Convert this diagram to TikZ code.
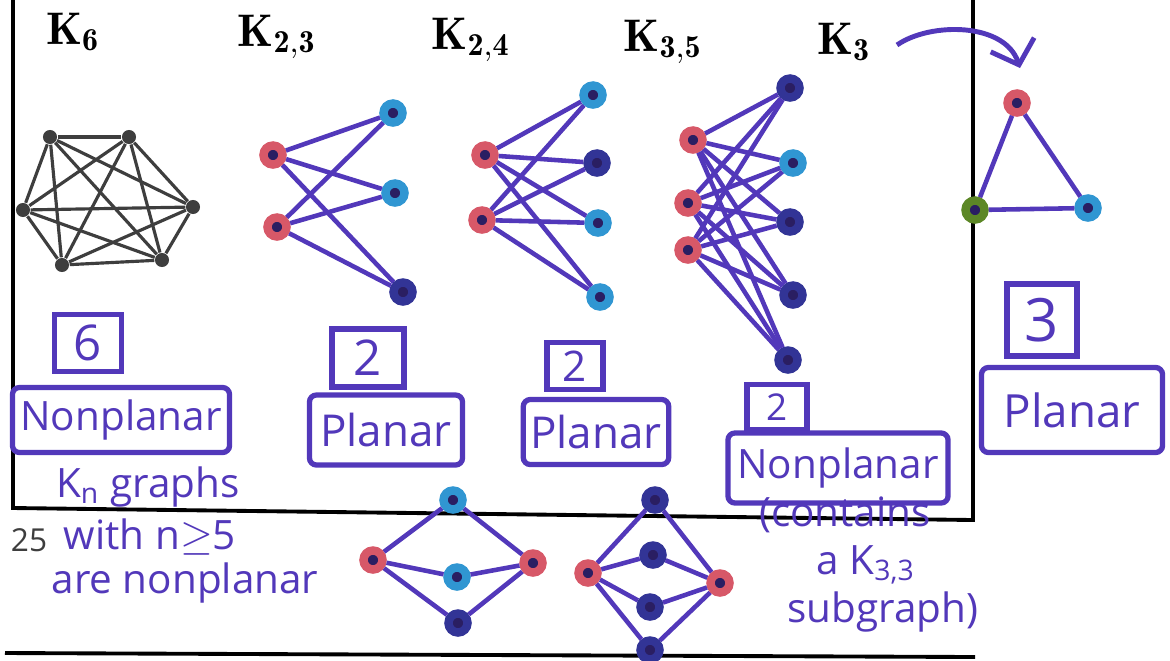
\documentclass[tikz,border=0pt]{standalone}
\usepackage{fontspec}
\usepackage{amsmath}
\usepackage{tikz}
\usetikzlibrary{arrows.meta, positioning}
\newfontfamily\handfont{Open Sans}
\definecolor{pen}{RGB}{82,56,186}
\definecolor{inkred}{RGB}{215,88,104}
\definecolor{inkblue}{RGB}{48,150,210}
\definecolor{inknavy}{RGB}{50,52,150}
\definecolor{inkgreen}{RGB}{92,135,38}
\definecolor{dotfill}{RGB}{42,30,98}
\definecolor{printgrey}{RGB}{62,62,62}
\tikzset{
  vtx/.style={circle, fill=dotfill, minimum size=0.19cm, inner sep=0pt, line width=2.4pt},
  redvtx/.style={vtx, draw=inkred},
  bluevtx/.style={vtx, draw=inkblue},
  navyvtx/.style={vtx, draw=inknavy},
  greenvtx/.style={vtx, draw=inkgreen},
  dot/.style={circle, fill=printgrey, minimum size=4pt, inner sep=0pt},
  penedge/.style={draw=pen, line width=1.3pt},
  printedge/.style={draw=printgrey, line width=0.9pt},
  frame/.style={draw=black, line width=1.1pt},
  title/.style={font=\fontsize{13}{13}\selectfont, text=black},
  numbox/.style={rectangle, draw=pen, line width=1.5pt, text=pen,
    font=\handfont\fontsize{14}{14}\selectfont, inner sep=1pt},
  wordbox/.style={rectangle, draw=pen, line width=1.5pt, text=pen,
    font=\handfont\fontsize{11.5}{11.5}\selectfont, rounded corners=2pt, inner sep=2pt},
  note/.style={text=pen, font=\handfont\fontsize{11.5}{11.5}\selectfont, inner sep=0pt},
  penarrow/.style={draw=pen, line width=1.4pt, -{Straight Barb[length=6pt, width=13pt]}}
}

\begin{document}
\begin{tikzpicture}[x=0.01cm, y=-0.01cm]
  \useasboundingbox (0,0) rectangle (1170,660);

  % ── Page frame ────────────────────────────────────────────────────
  \draw[frame] (13,-10) -- (13,508) -- (973,520) -- (973,-10);
  \draw[frame] (5,653) -- (975,657);
  \node[font=\handfont\fontsize{9}{9}\selectfont, text=printgrey] (pagenum) at (29,540) {25};

  % ── Titles ────────────────────────────────────────────────────────
  \node[title] (tsix)   at (73,32)  {$\mathbf{K_{6}}$};
  \node[title] (ttwo3)  at (277,37) {$\mathbf{K_{2,3}}$};
  \node[title] (ttwo4)  at (471,40) {$\mathbf{K_{2,4}}$};
  \node[title] (tthree5) at (663,42) {$\mathbf{K_{3,5}}$};
  \node[title] (tthree) at (844,42) {$\mathbf{K_{3}}$};

  % ── K6 (printed) ──────────────────────────────────────────────────
  \node[dot] (s1) at (50,137)  {};
  \node[dot] (s2) at (129,137) {};
  \node[dot] (s3) at (193,207) {};
  \node[dot] (s4) at (162,260) {};
  \node[dot] (s5) at (62,265)  {};
  \node[dot] (s6) at (23,210)  {};
  \foreach \i [evaluate=\i as \n using int(\i+1)] in {1,...,5}
    \foreach \j in {\n,...,6}
      \draw[printedge] (s\i) -- (s\j);

  % ── K2,3 ──────────────────────────────────────────────────────────
  \node[redvtx]  (a1) at (273,155) {};
  \node[redvtx]  (a2) at (277,227) {};
  \node[bluevtx] (b1) at (393,113) {};
  \node[bluevtx] (b2) at (395,193) {};
  \node[navyvtx] (b3) at (403,292) {};
  \foreach \i in {1,2}
    \foreach \j in {1,2,3}
      \draw[penedge] (a\i) -- (b\j);

  % ── K2,4 ──────────────────────────────────────────────────────────
  \node[redvtx]  (c1) at (485,155) {};
  \node[redvtx]  (c2) at (482,220) {};
  \node[bluevtx] (d1) at (593,95)  {};
  \node[navyvtx] (d2) at (597,163) {};
  \node[bluevtx] (d3) at (598,223) {};
  \node[bluevtx] (d4) at (600,297) {};
  \foreach \i in {1,2}
    \foreach \j in {1,...,4}
      \draw[penedge] (c\i) -- (d\j);

  % ── K3,5 ──────────────────────────────────────────────────────────
  \node[redvtx]  (e1) at (693,140) {};
  \node[redvtx]  (e2) at (688,203) {};
  \node[redvtx]  (e3) at (688,250) {};
  \node[navyvtx] (f1) at (790,88)  {};
  \node[bluevtx] (f2) at (793,163) {};
  \node[navyvtx] (f3) at (790,222) {};
  \node[navyvtx] (f4) at (793,295) {};
  \node[navyvtx] (f5) at (788,360) {};
  \foreach \i in {1,2,3}
    \foreach \j in {1,...,5}
      \draw[penedge] (e\i) -- (f\j);

  % ── K3 ────────────────────────────────────────────────────────────
  \node[redvtx]   (g1) at (1017,103) {};
  \node[greenvtx] (g2) at (975,210)  {};
  \node[bluevtx]  (g3) at (1088,208) {};
  \draw[penedge] (g1) -- (g2) -- (g3) -- (g1);
  \coordinate (arrowfrom) at (897,45);
  \coordinate (arrowto)   at (1020,68);
  \draw[penarrow] (arrowfrom) .. controls (930,22) and (1005,22) .. (arrowto);

  % ── Counts and verdicts ───────────────────────────────────────────
  \node[numbox, minimum width=0.67cm, minimum height=0.57cm] (nsix) at (88,343) {6};
  \node[wordbox, minimum width=2.17cm, minimum height=0.65cm] (vsix) at (121,420) {Nonplanar};
  \node[numbox, minimum width=0.72cm, minimum height=0.58cm] (ntwo3) at (368,358) {2};
  \node[wordbox, minimum width=1.53cm, minimum height=0.70cm, font=\handfont\fontsize{12.5}{12.5}\selectfont] (vtwo3) at (386,430) {Planar};
  \node[numbox, minimum width=0.56cm, minimum height=0.47cm, font=\handfont\fontsize{12}{12}\selectfont] (ntwo4) at (575,366) {2};
  \node[wordbox, minimum width=1.38cm, minimum height=0.65cm, font=\handfont\fontsize{12.5}{12.5}\selectfont] (vtwo4) at (596,432) {Planar};
  \node[numbox, minimum width=0.60cm, minimum height=0.45cm, font=\handfont\fontsize{10.5}{10.5}\selectfont] (nthree5) at (777,407) {2};
  \node[wordbox, minimum width=2.20cm, minimum height=0.70cm] (vthree5) at (838,468) {Nonplanar};
  \node[numbox, minimum width=0.70cm, minimum height=0.72cm, font=\handfont\fontsize{17}{17}\selectfont] (nthree) at (1042,320) {3};
  \node[wordbox, minimum width=1.81cm, minimum height=0.85cm, font=\handfont\fontsize{13}{13}\selectfont] (vthree) at (1072,410) {Planar};

  % ── Notes ─────────────────────────────────────────────────────────
  \node[note] (knote1) at (148,487) {K\textsubscript{n} graphs};
  \node[note] (knote2) at (150,537) {with n$\geq$5};
  \node[note] (knote3) at (185,583) {are nonplanar};
  \node[note] (cnote1) at (845,515) {(contains};
  \node[note] (cnote2) at (866,565) {a K\textsubscript{3,3}};
  \node[note] (cnote3) at (883,612) {subgraph)};

  % ── Planar drawing of K2,3 ────────────────────────────────────────
  \node[redvtx]  (h1) at (373,560) {};
  \node[redvtx]  (h2) at (533,563) {};
  \node[bluevtx] (i1) at (453,500) {};
  \node[bluevtx] (i2) at (457,577) {};
  \node[navyvtx] (i3) at (458,623) {};
  \foreach \i in {1,2}
    \foreach \j in {1,2,3}
      \draw[penedge] (h\i) -- (i\j);

  % ── Planar drawing of K2,4 ────────────────────────────────────────
  \node[redvtx]  (m1) at (588,573) {};
  \node[redvtx]  (m2) at (720,583) {};
  \node[navyvtx] (n1) at (655,500) {};
  \node[navyvtx] (n2) at (653,555) {};
  \node[navyvtx] (n3) at (650,607) {};
  \node[navyvtx] (n4) at (650,650) {};
  \foreach \i in {1,2}
    \foreach \j in {1,...,4}
      \draw[penedge] (m\i) -- (n\j);
\end{tikzpicture}
\end{document}
